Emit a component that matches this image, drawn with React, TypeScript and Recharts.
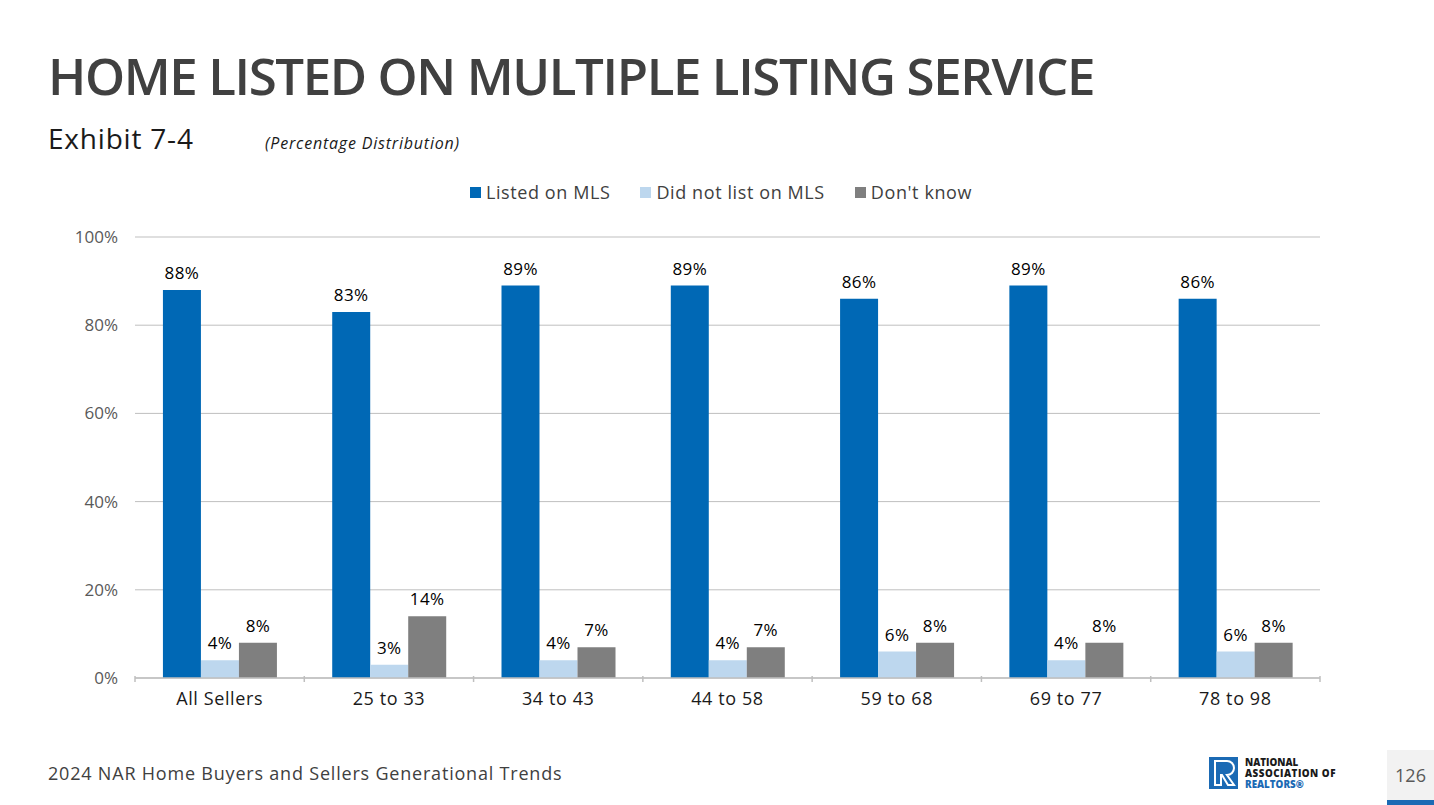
import React from "react";
import { BarChart, Bar, XAxis, YAxis, CartesianGrid, LabelList } from "recharts";

const categories = ["All Sellers", "25 to 33", "34 to 43", "44 to 58", "59 to 68", "69 to 77", "78 to 98"];
const listedOnMls = [88, 83, 89, 89, 86, 89, 86];
const notListedOnMls = [4, 3, 4, 4, 6, 4, 6];
const dontKnow = [8, 14, 7, 7, 8, 8, 8];
const yTicks = [0, 20, 40, 60, 80, 100];

const series = [
  { key: "listed", name: "Listed on MLS", color: "#0068b5" },
  { key: "notListed", name: "Did not list on MLS", color: "#bdd7ee" },
  { key: "dontKnow", name: "Don't know", color: "#7f7f7f" },
];

const data = categories.map((name, i) => ({
  name,
  listed: listedOnMls[i],
  notListed: notListedOnMls[i],
  dontKnow: dontKnow[i],
}));

const FONT = "'Open Sans', 'Noto Sans', sans-serif";
const PLOT_LEFT = 135;
const PLOT_RIGHT = 1320;
const STEP = (PLOT_RIGHT - PLOT_LEFT) / categories.length;

// category label plus the small boundary ticks between groups
function CategoryTick(props: any) {
  const { x, y, payload, index } = props;
  return (
    <g>
      <line x1={x - STEP / 2} x2={x - STEP / 2} y1={y - 10} y2={y - 4} stroke="#bfbfbf" strokeWidth={1.5} />
      {index === categories.length - 1 && (
        <line x1={x + STEP / 2} x2={x + STEP / 2} y1={y - 10} y2={y - 4} stroke="#bfbfbf" strokeWidth={1.5} />
      )}
      <text x={x} y={y + 19} textAnchor="middle" fontSize={18} letterSpacing={0.6} fill="#1a1a1a" fontFamily={FONT}>
        {payload.value}
      </text>
    </g>
  );
}

const pct = (v: any) => `${v}%`;

export default function App() {
  return (
    <div style={{ position: "absolute", left: 0, top: 0, width: 1434, height: 805, background: "#fff", fontFamily: FONT, overflow: "hidden" }}>
      <div style={{ position: "absolute", left: 48, top: 40, fontSize: 51, fontWeight: 600, color: "#404040", letterSpacing: -1.4, whiteSpace: "nowrap" }}>
        HOME LISTED ON MULTIPLE LISTING SERVICE
      </div>
      <div style={{ position: "absolute", left: 48, top: 119, fontSize: 28, color: "#1a1a1a", letterSpacing: 0.8, whiteSpace: "nowrap" }}>
        Exhibit 7-4
      </div>
      <div style={{ position: "absolute", left: 265, top: 132, fontSize: 16, fontStyle: "italic", color: "#1a1a1a", letterSpacing: 0.8, whiteSpace: "nowrap" }}>
        (Percentage Distribution)
      </div>

      {/* legend */}
      <div style={{ position: "absolute", left: 4, top: 180, width: 1434, display: "flex", justifyContent: "center", fontSize: 18, letterSpacing: 0.6, color: "#404040" }}>
        {series.map((s) => (
          <div key={s.key} style={{ display: "flex", alignItems: "center", margin: "0 15px" }}>
            <span style={{ width: 11, height: 11, background: s.color, marginRight: 5, display: "inline-block" }} />
            <span>{s.name}</span>
          </div>
        ))}
      </div>

      <div style={{ position: "absolute", left: 0, top: 0 }}>
        <BarChart
          width={1434}
          height={740}
          data={data}
          margin={{ top: 237, right: 1434 - PLOT_RIGHT, bottom: 22, left: PLOT_LEFT - 70 }}
          barCategoryGap="16.5%"
          barGap={0}
        >
          <CartesianGrid vertical={false} stroke="#bfbfbf" />
          <XAxis
            dataKey="name"
            axisLine={{ stroke: "#bfbfbf", strokeWidth: 1.5 }}
            tickLine={false}
            height={40}
            tick={<CategoryTick />}
            interval={0}
          />
          <YAxis
            domain={[0, 100]}
            ticks={yTicks}
            tickFormatter={pct}
            axisLine={false}
            tickLine={false}
            width={70}
            tickSize={0}
            tickMargin={17}
            tick={{ fontSize: 17, fill: "#595959", fontFamily: FONT }}
          />
          {series.map((s) => (
            <Bar key={s.key} dataKey={s.key} name={s.name} fill={s.color} isAnimationActive={false}>
              <LabelList dataKey={s.key} position="top" offset={11} formatter={pct} fill="#000" fontSize={17} letterSpacing={0.4} fontFamily={FONT} />
            </Bar>
          ))}
        </BarChart>
      </div>

      <div style={{ position: "absolute", left: 48, top: 761, fontSize: 18, letterSpacing: 0.8, color: "#404040", whiteSpace: "nowrap" }}>
        2024 NAR Home Buyers and Sellers Generational Trends
      </div>

      {/* association logo */}
      <svg style={{ position: "absolute", left: 1209, top: 757 }} width={140} height={36}>
        <rect x={0} y={0} width={29} height={32} fill="#1b6ab4" />
        <path d="M6 4 H18 A7 7 0 0 1 18 18 L25 28 H19 L13 18 H12 V28 H6 Z" fill="none" stroke="#fff" strokeWidth={2} />
        <text x={36} y={9} fontSize={9.8} fontWeight={800} fill="#1a1a1a" fontFamily={FONT}>NATIONAL</text>
        <text x={36} y={20} fontSize={9.8} fontWeight={800} fill="#1a1a1a" fontFamily={FONT} letterSpacing={0.5}>ASSOCIATION OF</text>
        <text x={36} y={31} fontSize={9.8} fontWeight={800} fill="#1b6ab4" fontFamily={FONT}>REALTORS®</text>
      </svg>

      <div style={{ position: "absolute", left: 1387, top: 750, width: 47, height: 50, background: "#f2f2f2" }}>
        <div style={{ textAlign: "center", marginTop: 13, fontSize: 18, color: "#595959" }}>126</div>
      </div>
      <div style={{ position: "absolute", left: 1387, top: 800, width: 47, height: 5, background: "#1b6ab4" }} />
    </div>
  );
}
